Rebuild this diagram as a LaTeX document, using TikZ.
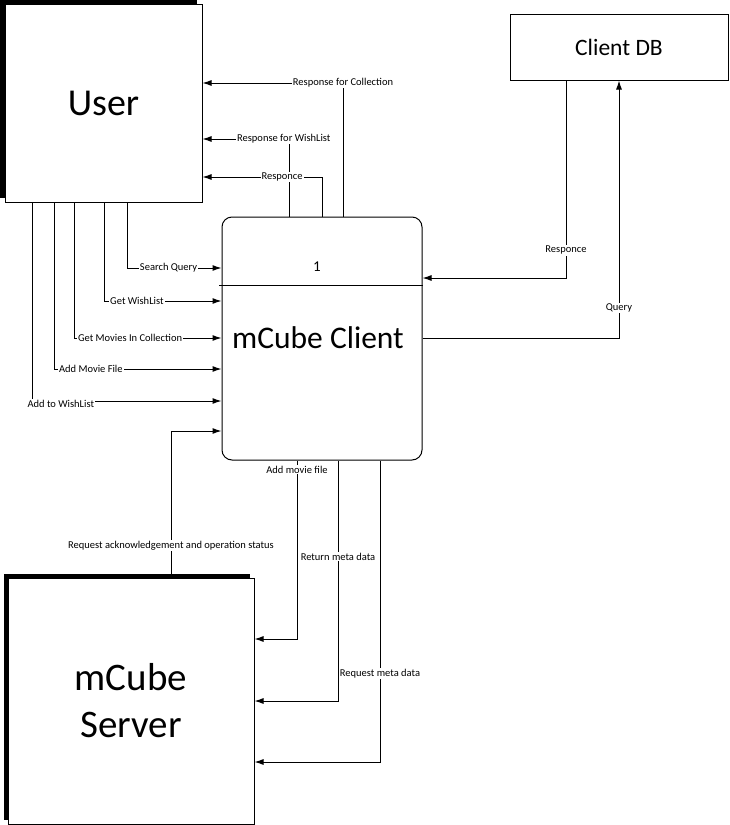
\documentclass[tikz,border=0pt]{standalone}
\usepackage{fontspec}
\setmainfont{Carlito}
\usetikzlibrary{arrows.meta}
\begin{document}
\begin{tikzpicture}[x=1pt,y=-1pt,line width=1pt,
  box/.style={draw,fill=white,inner sep=0pt,align=center},
  lbl/.style={fill=white,inner sep=1pt,font=\fontsize{10.5}{12}\selectfont},
  arr/.style={-{Latex[length=9pt,width=6pt]}}]
\useasboundingbox (0,0) rectangle (729,825);
% shadows of the external entities
\fill[black] (0,0) rectangle (197,198);
\fill[black] (4,574) rectangle (250,820);
% nodes
\node[box,minimum width=197pt,minimum height=198pt,font=\fontsize{38}{46}\selectfont] (user) at (103.5,103) {User};
\node[box,minimum width=246pt,minimum height=246pt,font=\fontsize{39}{47}\selectfont] (server) at (131,701) {mCube\\Server};
\node[box,minimum width=218pt,minimum height=66pt,font=\fontsize{23.5}{28}\selectfont] (db) at (619,47) {Client DB};
\node[box,rounded corners=10pt,minimum width=200pt,minimum height=243pt,font=\fontsize{31.5}{38}\selectfont] (client) at (322,338.5) {};
\node[font=\fontsize{31.5}{38}\selectfont] (ctitle) at (318,338) {mCube Client};
\node[font=\fontsize{15}{18}\selectfont] (cnum) at (317,267) {1};
\coordinate (div) at (219,285);
\draw (div) -- (client.east |- div);
% responses to user
\coordinate (rc) at (343,83);
\coordinate (rw) at (289,139);
\coordinate (rr) at (322,177);
\draw[arr] (client.north -| rc) |- node[lbl,pos=0.5] (lrc) {Response for Collection} (user.east |- rc);
\draw[arr] (client.north -| rw) |- node[lbl,pos=0.53] (lrw) {Response for WishList} (user.east |- rw);
\draw[arr] (client.north -| rr) |- node[lbl,pos=0.667] (lrr) {Responce} (user.east |- rr);
% user requests
\coordinate (sq) at (127,268);
\coordinate (gw) at (104,301);
\coordinate (gm) at (74,338);
\coordinate (am) at (54,369);
\coordinate (aw) at (32,401);
\draw[arr] (user.south -| sq) |- node[lbl,pos=0.72] (lsq) {Search Query} (client.west |- sq);
\draw[arr] (user.south -| gw) |- node[lbl,pos=0.64] (lgw) {Get WishList} (client.west |- gw);
\draw[arr] (user.south -| gm) |- node[lbl,pos=0.69] (lgm) {Get Movies In Collection} (client.west |- gm);
\draw[arr] (user.south -| am) |- node[lbl,pos=0.61] (lam) {Add Movie File} (client.west |- am);
\draw[arr] (user.south -| aw) |- node[lbl,pos=0.576,yshift=-3pt] (law) {Add to WishList} (client.west |- aw);
% server to client
\coordinate (ra) at (171,431);
\draw[arr] (server.north -| ra) |- node[lbl,pos=0.109] (lra) {Request acknowledgement and operation status} (client.west |- ra);
% client to server
\coordinate (amf) at (297,639);
\coordinate (rmd) at (338,701);
\coordinate (qmd) at (380,762);
\draw[arr] (client.south -| amf) |- node[lbl,pos=0.025] (lamf) {Add movie file} (server.east |- amf);
\draw[arr] (client.south -| rmd) |- node[lbl,pos=0.2] (lrmd) {Return meta data} (server.east |- rmd);
\draw[arr] (client.south -| qmd) |- node[lbl,pos=0.354] (lqmd) {Request meta data} (server.east |- qmd);
% client db
\coordinate (dr) at (566,278);
\coordinate (dq) at (619,338);
\draw[arr] (db.south -| dr) |- node[lbl,pos=0.43] (ldr) {Responce} (client.east |- dr);
\draw[arr] (client.east |- dq) -| node[lbl,pos=0.558] (ldq) {Query} (db.south -| dq);
\end{tikzpicture}
\end{document}
